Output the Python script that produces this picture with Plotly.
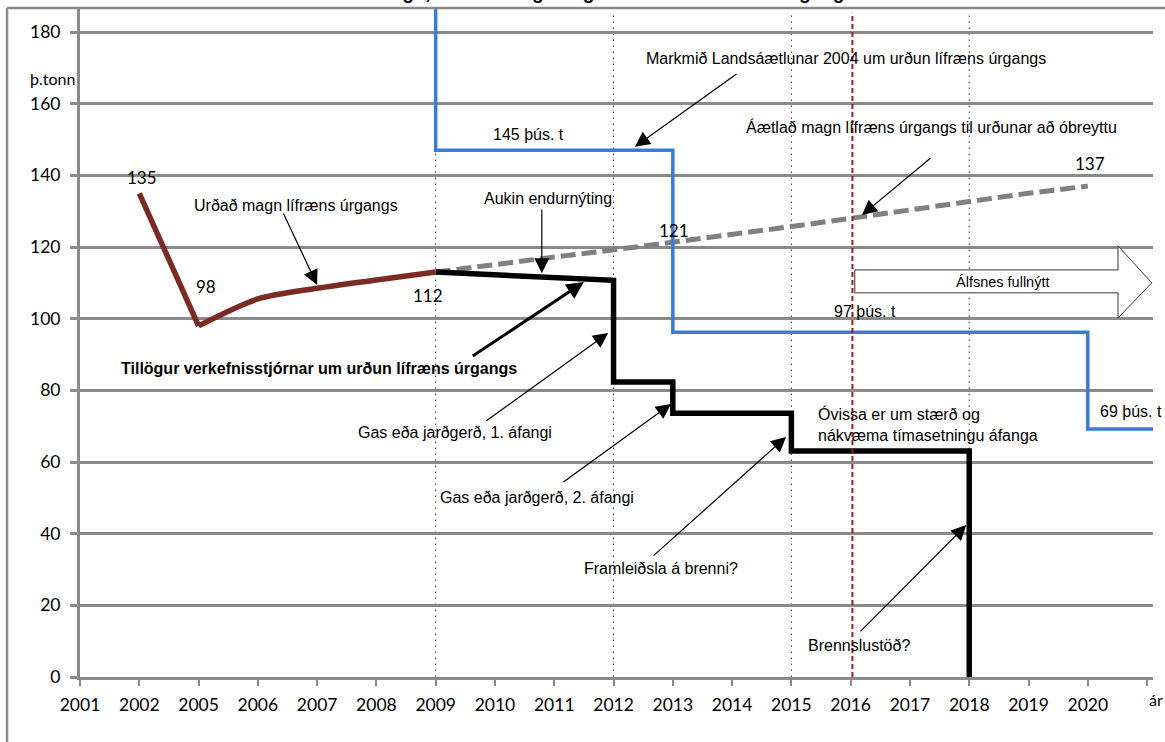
import plotly.graph_objects as go

# ---------------- data ----------------
categories = ["2001", "2002", "2005", "2006", "2007", "2008", "2009", "2010", "2011",
              "2012", "2013", "2014", "2015", "2016", "2017", "2018", "2019", "2020"]
y_tick_values = [0, 20, 40, 60, 80, 100, 120, 140, 160, 180]

# Urðað magn lífræns úrgangs (actual landfilled)
urdad_years_a = ["2002", "2005"]
urdad_values_a = [135, 98]
urdad_years_b = ["2005", "2006", "2007", "2008", "2009"]
urdad_values_b = [98, 105.5, 108.5, 110.8, 113]

# Áætlað magn til urðunar að óbreyttu (projection)
aaetlad_years = ["2009", "2010", "2011", "2012", "2013", "2014", "2015", "2016",
                 "2017", "2018", "2019", "2020"]
aaetlad_values = [113, 115.2, 117.2, 119.2, 121.3, 123.5, 125.7, 128, 130.5, 132.7, 135, 137]

# Tillögur verkefnisstjórnar (proposal, step line)
tillogur_years = ["2009", "2012", "2012", "2013", "2013", "2015", "2015", "2018", "2018"]
tillogur_values = [113, 110.7, 82.3, 82.3, 73.6, 73.6, 63.1, 63.1, 0]

# Markmið Landsáætlunar 2004 (target, steps; continues past 2020 to axis end)
markmid_years = ["2009", "2013", "2020", "END"]
markmid_values = [200, 147, 96.2, 69.2]

dotted_years = ["2009", "2012", "2015", "2018"]
alfsnes_year = "2016"

# ---------------- helpers ----------------
idx = {c: i for i, c in enumerate(categories)}
idx["END"] = len(categories) + 1


def xs(years):
    return [idx[y] for y in years]


GRID = "#8a8a8a"
BROWN = "#7a2c24"
BLUE = "#3a7bd5"
GRAYD = "#808080"
TXT = "Liberation Sans, Arial, sans-serif"
NUM = "Lato, Carlito, sans-serif"

X_MAX = 18.1
Y_MAX = 186.7

fig = go.Figure()

fig.add_trace(go.Scatter(x=xs(aaetlad_years), y=aaetlad_values, mode="lines",
                         line=dict(color=GRAYD, width=5, dash="15px,6px"),
                         hoverinfo="skip", showlegend=False))
fig.add_trace(go.Scatter(x=xs(markmid_years), y=markmid_values, mode="lines",
                         line=dict(color=BLUE, width=3.5, shape="vh"),
                         hoverinfo="skip", showlegend=False))
fig.add_trace(go.Scatter(x=xs(tillogur_years), y=tillogur_values, mode="lines",
                         line=dict(color="black", width=5.5),
                         hoverinfo="skip", showlegend=False))
fig.add_trace(go.Scatter(x=xs(urdad_years_a), y=urdad_values_a, mode="lines",
                         line=dict(color=BROWN, width=5.5),
                         hoverinfo="skip", showlegend=False))
fig.add_trace(go.Scatter(x=xs(urdad_years_b), y=urdad_values_b, mode="lines",
                         line=dict(color=BROWN, width=5.5, shape="spline", smoothing=0.8),
                         hoverinfo="skip", showlegend=False))

shapes = []
# dotted verticals
for yr in dotted_years:
    shapes.append(dict(type="line", xref="x", yref="paper", x0=idx[yr], x1=idx[yr],
                       y0=0, y1=0.995, layer="between",
                       line=dict(color="#333333", width=1, dash="1.5px,4.5px")))
# Álfsnes block arrow
ax0 = idx[alfsnes_year] + 0.07
shapes.append(dict(type="path", xref="x", yref="y", layer="above",
                   path=(f"M {ax0},113.6 L 17.51,113.6 L 17.51,120.3 L 18.08,110 "
                         f"L 17.51,100.2 L 17.51,107.2 L {ax0},107.2 Z"),
                   fillcolor="white", line=dict(color="#333333", width=1)))
# red dashed line 2016
shapes.append(dict(type="line", xref="x", yref="paper", x0=idx[alfsnes_year] + 0.03,
                   x1=idx[alfsnes_year] + 0.03, y0=0, y1=0.993, layer="above",
                   line=dict(color="#8b2020", width=2, dash="5px,3px")))
# outer chart border (left & top)
shapes.append(dict(type="line", xref="paper", yref="paper", x0=-0.068, x1=-0.068,
                   y0=-0.2, y1=1.0, line=dict(color=GRID, width=2.5)))
shapes.append(dict(type="line", xref="paper", yref="paper", x0=-0.068, x1=1.2,
                   y0=1.0, y1=1.0, line=dict(color=GRID, width=2.5)))

annotations = []


def txt(x, y, s, size=16, font=TXT, bold=False, xanchor="center", align="center"):
    annotations.append(dict(x=x, y=y, xref="x", yref="y", text=(f"<b>{s}</b>" if bold else s),
                            showarrow=False, xanchor=xanchor, yanchor="middle", align=align,
                            font=dict(family=font, size=size, color="black")))


def arrow(tail, tip, width=1.2, size=2.5):
    annotations.append(dict(x=tip[0], y=tip[1], ax=tail[0], ay=tail[1], xref="x", yref="y",
                            axref="x", ayref="y", text="", showarrow=True, arrowhead=2,
                            arrowsize=size, arrowwidth=width, arrowcolor="black",
                            standoff=0, startstandoff=0))


txt(12.92, 172.5, "Markmið Landsáætlunar 2004 um urðun lífræns úrgangs")
arrow((11.10, 168.6), (9.36, 148.0))
txt(7.57, 151.3, "145 þús. t")
txt(14.36, 153.5, "Áætlað magn lífræns úrgangs til urðunar að óbreyttu")
arrow((14.37, 145.1), (13.19, 128.9))
txt(17.04, 143.4, "137", size=17, font=NUM)
txt(1.05, 139.3, "135", size=17, font=NUM)
txt(2.13, 109.1, "98", size=17, font=NUM)
txt(5.87, 106.6, "112", size=17, font=NUM)
txt(10.02, 124.7, "121", size=17, font=NUM)
txt(3.64, 131.7, "Urðað magn lífræns úrgangs")
arrow((3.42, 129.8), (4.00, 109.4))
txt(7.89, 133.4, "Aukin endurnýting")
arrow((7.79, 130.9), (7.79, 112.7))
txt(4.03, 86.2, "Tillögur verkefnisstjórnar um urðun lífræns úrgangs", bold=True)
arrow((6.60, 89.3), (8.50, 110.2), width=3, size=1.15)
txt(6.33, 68.1, "Gas eða jarðgerð, 1. áfangi")
arrow((6.83, 71.2), (8.91, 96.0))
txt(7.71, 50.0, "Gas eða jarðgerð, 2. áfangi")
arrow((8.13, 54.1), (9.97, 76.2))
txt(9.80, 30.4, "Framleiðsla á brenni?")
arrow((9.65, 33.5), (11.91, 67.0))
txt(12.42, 70.6, "Óvissa er um stærð og<br>nákvæma tímasetningu áfanga",
    xanchor="left", align="left")
txt(13.14, 8.9, "Brennslustöð?")
arrow((13.14, 12.3), (14.95, 42.4))
txt(13.24, 101.9, "97 þús. t")
txt(17.73, 74.0, "69 þús. t")
txt(15.57, 110.2, "Álfsnes fullnýtt", size=14.5)

# axis side labels
annotations.append(dict(x=-0.026, y=0.894, xref="paper", yref="paper", text="þ.tonn",
                        xanchor="center", yanchor="middle",
                        showarrow=False, font=dict(family=NUM, size=16, color="black")))
annotations.append(dict(x=1.003, y=-0.034, xref="paper", yref="paper", text="ár",
                        xanchor="center", yanchor="middle",
                        showarrow=False, font=dict(family=NUM, size=16, color="black")))
# title at the very top, mostly above the visible page as in the reference
annotations.append(dict(x=0.466, y=1.0, xref="paper", yref="paper", yshift=3,
                        text="<b>Áætlað magn, markmið og tillögur um urðun lífræns úrgangs</b>",
                        showarrow=False, xanchor="center", yanchor="bottom",
                        font=dict(family=TXT, size=19, color="black")))

fig.update_layout(
    width=1165, height=742,
    margin=dict(l=80, r=12, t=8, b=65),
    paper_bgcolor="white", plot_bgcolor="white",
    showlegend=False,
    shapes=shapes, annotations=annotations,
    xaxis=dict(range=[0, X_MAX], tickmode="array",
               tickvals=list(range(len(categories) + 1)),
               ticktext=categories + [""],
               showgrid=False, zeroline=False,
               showline=True, linecolor=GRID, linewidth=3,
               ticks="outside", ticklen=6, tickwidth=2, tickcolor=GRID,
               ticklabelstandoff=4,
               tickfont=dict(family=NUM, size=17.5, color="black")),
    yaxis=dict(range=[0, Y_MAX], tickmode="array", tickvals=y_tick_values,
               showgrid=True, gridcolor=GRID, gridwidth=3, zeroline=False,
               showline=True, linecolor=GRID, linewidth=3,
               ticks="outside", ticklen=7, tickwidth=3, tickcolor=GRID,
               ticklabelstandoff=6,
               tickfont=dict(family=NUM, size=17.5, color="black")),
)

fig.write_html("out.html", config={"displayModeBar": False},
               post_script="document.body.style.margin='0';document.body.style.overflow='hidden';")
